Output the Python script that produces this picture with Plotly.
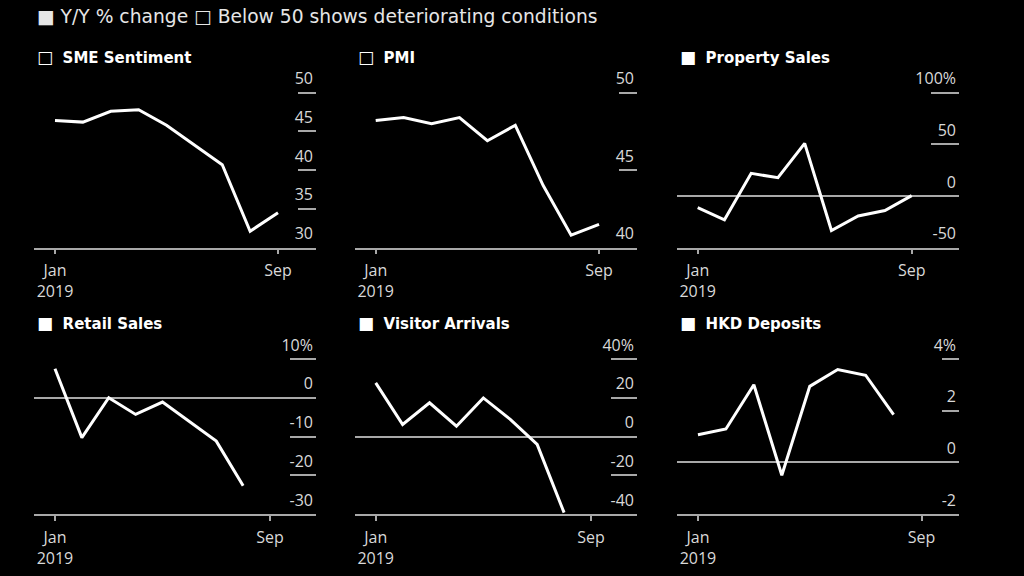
import plotly.graph_objects as go

# ---------------- data ----------------
months = ["Jan", "Feb", "Mar", "Apr", "May", "Jun", "Jul", "Aug", "Sep"]
sme_sentiment = [46.4, 46.2, 47.6, 47.8, 45.8, 43.3, 40.7, 32.1, 34.5]
pmi = [48.2, 48.4, 48.0, 48.4, 46.9, 47.9, 44.0, 40.8, 41.5]
property_sales = [-11.3, -23.2, 21.9, 17.7, 51.0, -33.5, -19.4, -14.2, 0.3]
retail_sales = [7.5, -10.3, 0.0, -4.3, -1.1, -6.2, -11.2, -22.7]
visitor_arrivals = [27.7, 6.2, 17.4, 5.3, 19.9, 8.8, -4.1, -39.3]
hkd_deposits = [1.07, 1.29, 3.0, -0.5, 2.94, 3.59, 3.37, 1.85]

titles = ["SME Sentiment", "PMI", "Property Sales", "Retail Sales", "Visitor Arrivals", "HKD Deposits"]
markers = ["\u25A1", "\u25A1", "\u25A0", "\u25A0", "\u25A0", "\u25A0"]
series = [sme_sentiment, pmi, property_sales, retail_sales, visitor_arrivals, hkd_deposits]

ytick_vals = [[30, 35, 40, 45, 50], [40, 45, 50], [-50, 0, 50, 100],
              [-30, -20, -10, 0, 10], [-40, -20, 0, 20, 40], [-2, 0, 2, 4]]
ytick_text = [["30", "35", "40", "45", "50"], ["40", "45", "50"], ["-50", "0", "50", "100%"],
              ["-30", "-20", "-10", "0", "10%"], ["-40", "-20", "0", "20", "40%"], ["-2", "0", "2", "4%"]]
xtick_text = ["Jan<br>2019", "Sep"]
legend_text = "\u25A0 Y/Y % change \u25A1 Below 50 shows deteriorating conditions"

# ---------------- layout geometry (pixels) ----------------
W, H = 1024, 576
panels = [
    dict(xd=(34, 316), yd=(247.5, 55), xr=(-0.753, 9.363), yr=(30, 54.87), tl=18),
    dict(xd=(355, 637), yd=(247.5, 55), xr=(-0.742, 9.36), yr=(40, 52.44), tl=18),
    dict(xd=(677, 959), yd=(247.5, 55), xr=(-0.774, 9.77), yr=(-50, 136.7), tl=28),
    dict(xd=(34, 316), yd=(514, 322), xr=(-0.78, 9.71), yr=(-30, 19.55), tl=26),
    dict(xd=(355, 637), yd=(514, 322), xr=(-0.77, 9.71), yr=(-40, 59.1), tl=26),
    dict(xd=(677, 959), yd=(514, 322), xr=(-0.75, 9.34), yr=(-2, 5.43), tl=17),
]

GREY = "#a8a8a8"
TXT = "#d9d9d9"
TICKFONT = dict(family="Open Sans", size=16, color=TXT)

fig = go.Figure()
layout = dict(
    width=W, height=H,
    paper_bgcolor="#000000", plot_bgcolor="#000000",
    margin=dict(l=0, r=0, t=0, b=0),
    showlegend=False,
    annotations=[],
)

for i, p in enumerate(panels):
    n = i + 1
    xa = "x" if n == 1 else f"x{n}"
    ya = "y" if n == 1 else f"y{n}"
    vals = series[i]
    fig.add_trace(go.Scatter(
        x=list(range(len(vals))), y=vals, mode="lines",
        line=dict(color="#ffffff", width=3),
        xaxis=xa, yaxis=ya, hoverinfo="skip",
    ))
    has_zero = p["yr"][0] < 0 < p["yr"][1]
    layout["xaxis" if n == 1 else f"xaxis{n}"] = dict(
        domain=[p["xd"][0] / W, p["xd"][1] / W],
        range=list(p["xr"]), anchor=ya,
        showgrid=False, zeroline=False,
        showline=True, linecolor=GREY, linewidth=1.5,
        ticks="outside", ticklen=5, tickcolor=GREY, tickwidth=1.5,
        tickvals=[0, 8], ticktext=xtick_text, ticklabelstandoff=3,
        tickfont=TICKFONT, fixedrange=True,
    )
    layout["yaxis" if n == 1 else f"yaxis{n}"] = dict(
        domain=[1 - p["yd"][0] / H, 1 - p["yd"][1] / H],
        range=list(p["yr"]), anchor=xa, side="right",
        showgrid=False, showline=False,
        zeroline=has_zero, zerolinecolor=GREY, zerolinewidth=1.5,
        ticks="inside", ticklen=p["tl"], tickcolor=GREY, tickwidth=1.5,
        ticklabelposition="inside top", ticklabelshift=-2,
        tickvals=ytick_vals[i], ticktext=ytick_text[i],
        tickfont=TICKFONT, fixedrange=True,
    )
    title_y = 57 if i < 3 else 323
    layout["annotations"].append(dict(
        xref="paper", yref="paper",
        x=(p["xd"][0] + 1) / W, y=1 - title_y / H,
        xanchor="left", yanchor="middle", showarrow=False,
        text=f"<span style='font-size:17px'>{markers[i]}</span>  <b>{titles[i]}</b>",
        font=dict(family="DejaVu Sans", size=15, color="#ffffff"),
    ))

layout["annotations"].append(dict(
    xref="paper", yref="paper", x=35 / W, y=1 - 16 / H,
    xanchor="left", yanchor="middle", showarrow=False,
    text=legend_text,
    font=dict(family="DejaVu Sans", size=18.7, color="#e6e6e6"),
))

fig.update_layout(**layout)
fig.write_html(
    "out.html",
    config={"displayModeBar": False},
    post_script="document.body.style.margin='0';document.body.style.background='#000';",
)
